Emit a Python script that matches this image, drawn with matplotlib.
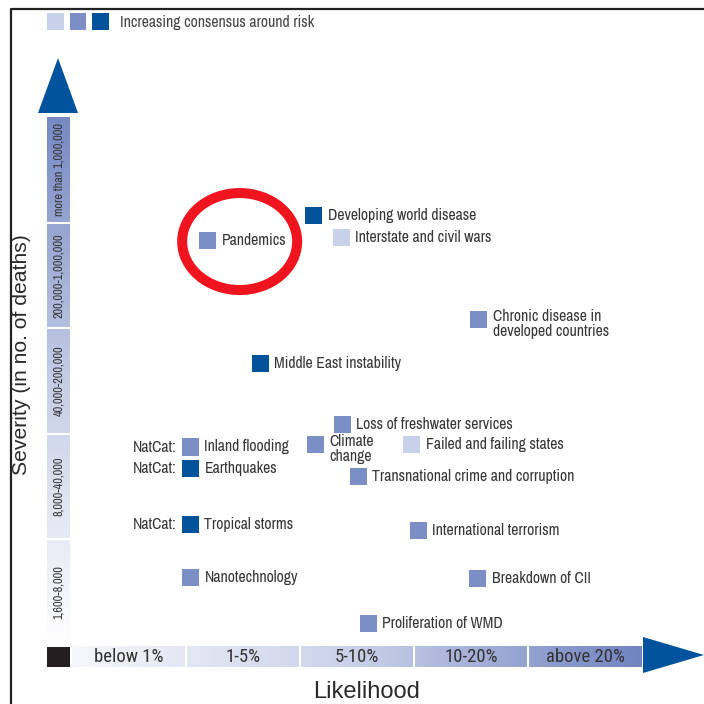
import numpy as np
import matplotlib.pyplot as plt
from matplotlib.patches import Polygon, Rectangle, Ellipse
from matplotlib.colors import LinearSegmentedColormap

# --- data ---
likelihood_bands = ['below 1%', '1-5%', '5-10%', '10-20%', 'above 20%']
severity_bands = ['1,600-8,000', '8,000-40,000', '40,000-200,000',
                  '200,000-1,000,000', 'more than 1,000,000']

risks = ['Pandemics', 'Developing world disease', 'Interstate and civil wars',
         'Chronic disease in\ndeveloped countries', 'Middle East instability',
         'Loss of freshwater services', 'Climate\nchange', 'Failed and failing states',
         'Transnational crime and corruption', 'Inland flooding', 'Earthquakes',
         'Tropical storms', 'Nanotechnology', 'International terrorism',
         'Breakdown of CII', 'Proliferation of WMD']
# position inside the bands (0..5 on each axis)
likelihood = [1.19, 2.12, 2.36, 3.57, 1.65, 2.37, 2.14, 2.98, 2.51,
              1.04, 1.04, 1.04, 1.04, 3.04, 3.56, 2.60]
severity = [3.83, 4.07, 3.86, 3.08, 2.67, 2.09, 1.90, 1.90, 1.60,
            1.875, 1.67, 1.14, 0.64, 1.08, 0.63, 0.20]
# 0 = low, 1 = medium, 2 = high consensus
consensus = [1, 2, 0, 1, 2, 1, 1, 0, 1, 1, 2, 2, 1, 1, 1, 1]
natcat = [False] * 9 + [True, True, True] + [False] * 4
highlight = 'Pandemics'

consensus_colors = ['#c9d0ea', '#7b8fc6', '#00529b']
arrow_blue = '#00539c'
text_col = '#363636'
narrow = ['Archivo Narrow', 'Roboto Condensed', 'DejaVu Sans']
band_font = ['Roboto Condensed', 'Archivo Narrow', 'DejaVu Sans']

W = H = 704
fig = plt.figure(figsize=(W / 100, H / 100), dpi=100)

# overlay in pixel units for frame, arrows, legend, titles
ov = fig.add_axes([0, 0, 1, 1])
ov.set_xlim(0, W)
ov.set_ylim(H, 0)
ov.axis('off')

# main axes: one unit per band
x0, x1, y0, y1 = 72, 642, 645, 117
ax = fig.add_axes([x0 / W, (H - y0) / H, (x1 - x0) / W, (y0 - y1) / H])
ax.set_xlim(0, 5)
ax.set_ylim(0, 5)
ax.axis('off')

ov.plot([11, 11, W], [H, 8.5, 8.5], color='#222222', lw=1.6, solid_capstyle='butt')

# legend squares
for i, c in enumerate(consensus_colors):
    ov.add_patch(Rectangle((47 + i * 22.5, 13), 16.5, 17, color=c, lw=0))
ov.text(120, 22, 'Increasing consensus around risk', family=narrow, fontsize=11.3,
        color='#444444', va='center')

# arrows
ov.add_patch(Polygon([(38, 113), (78, 113), (58, 58)], closed=True, color=arrow_blue, lw=0))
ov.add_patch(Polygon([(643, 637), (643, 673), (704, 655)], closed=True, color=arrow_blue, lw=0))

# gradient bars along the axes
px = 1 / 114.0   # one pixel in x data units
py = 1 / 105.6   # one pixel in y data units
xcmap = LinearSegmentedColormap.from_list('xb', ['#f6f7fb', '#c9d0e8', '#7184c0'])
ycmap = LinearSegmentedColormap.from_list('yb', ['#ffffff', '#c5cde6', '#7689c3'])
grad = np.linspace(0, 1, 256)
im = ax.imshow(grad[None, :], extent=(0, 5, -22 * py, -1 * py), cmap=xcmap,
               aspect='auto', origin='lower')
im.set_clip_on(False)
im = ax.imshow(grad[:, None], extent=(-25 * px, -2 * px, 0, 5), cmap=ycmap,
               aspect='auto', origin='lower')
im.set_clip_on(False)
for k in range(1, 5):
    ax.plot([k, k], [-22 * py, -1 * py], color='white', lw=1.5, clip_on=False)
    ax.plot([-25 * px, -2 * px], [k, k], color='white', lw=1.5, clip_on=False)
ax.add_patch(Rectangle((-25 * px, -22 * py), 23 * px, 20 * py, color='#231f20',
                       lw=0, clip_on=False))

for k, lab in enumerate(likelihood_bands):
    ax.text(k + 0.5, -11.5 * py, lab, ha='center', va='center', family=band_font,
            fontsize=13.5, color='#333333', clip_on=False)
for k, lab in enumerate(severity_bands):
    ax.text(-13.5 * px, k + 0.5, lab, ha='center', va='center', rotation=90,
            family=narrow, fontsize=8.8, color=text_col, clip_on=False)

ov.text(22, 355, 'Severity (in no. of deaths)', rotation=90, ha='center', va='center',
        fontsize=15.2, color='#2a2a2a', family='Liberation Sans')
ov.text(367, 681, 'Likelihood', ha='center', va='top', fontsize=17,
        color='#2a2a2a', family='Liberation Sans')

# risks
ax.scatter(likelihood, severity, marker='s', s=150,
           c=[consensus_colors[c] for c in consensus], linewidths=0,
           clip_on=False, zorder=3)
for name, lx, sy, nc in zip(risks, likelihood, severity, natcat):
    dy = -3.2 if '\n' in name else 0
    ax.annotate(name, (lx, sy), xytext=(10, dy), textcoords='offset points',
                ha='left', va='center', family=narrow, fontsize=11.3,
                color=text_col, linespacing=0.95)
    if nc:
        ax.annotate('NatCat:', (lx, sy), xytext=(-10, 0), textcoords='offset points',
                    ha='right', va='center', family=narrow, fontsize=11.3,
                    color=text_col)

# red circle around the highlighted risk
hi = risks.index(highlight)
ov_x, ov_y = ax.transData.transform((likelihood[hi], severity[hi]))
cx, cy = ov.transData.inverted().transform((ov_x, ov_y))
ov.add_patch(Ellipse((cx + 32, cy + 1), 115, 97, fill=False, ec='#f0141e', lw=7.2))

fig.savefig('out.png', dpi=100)
